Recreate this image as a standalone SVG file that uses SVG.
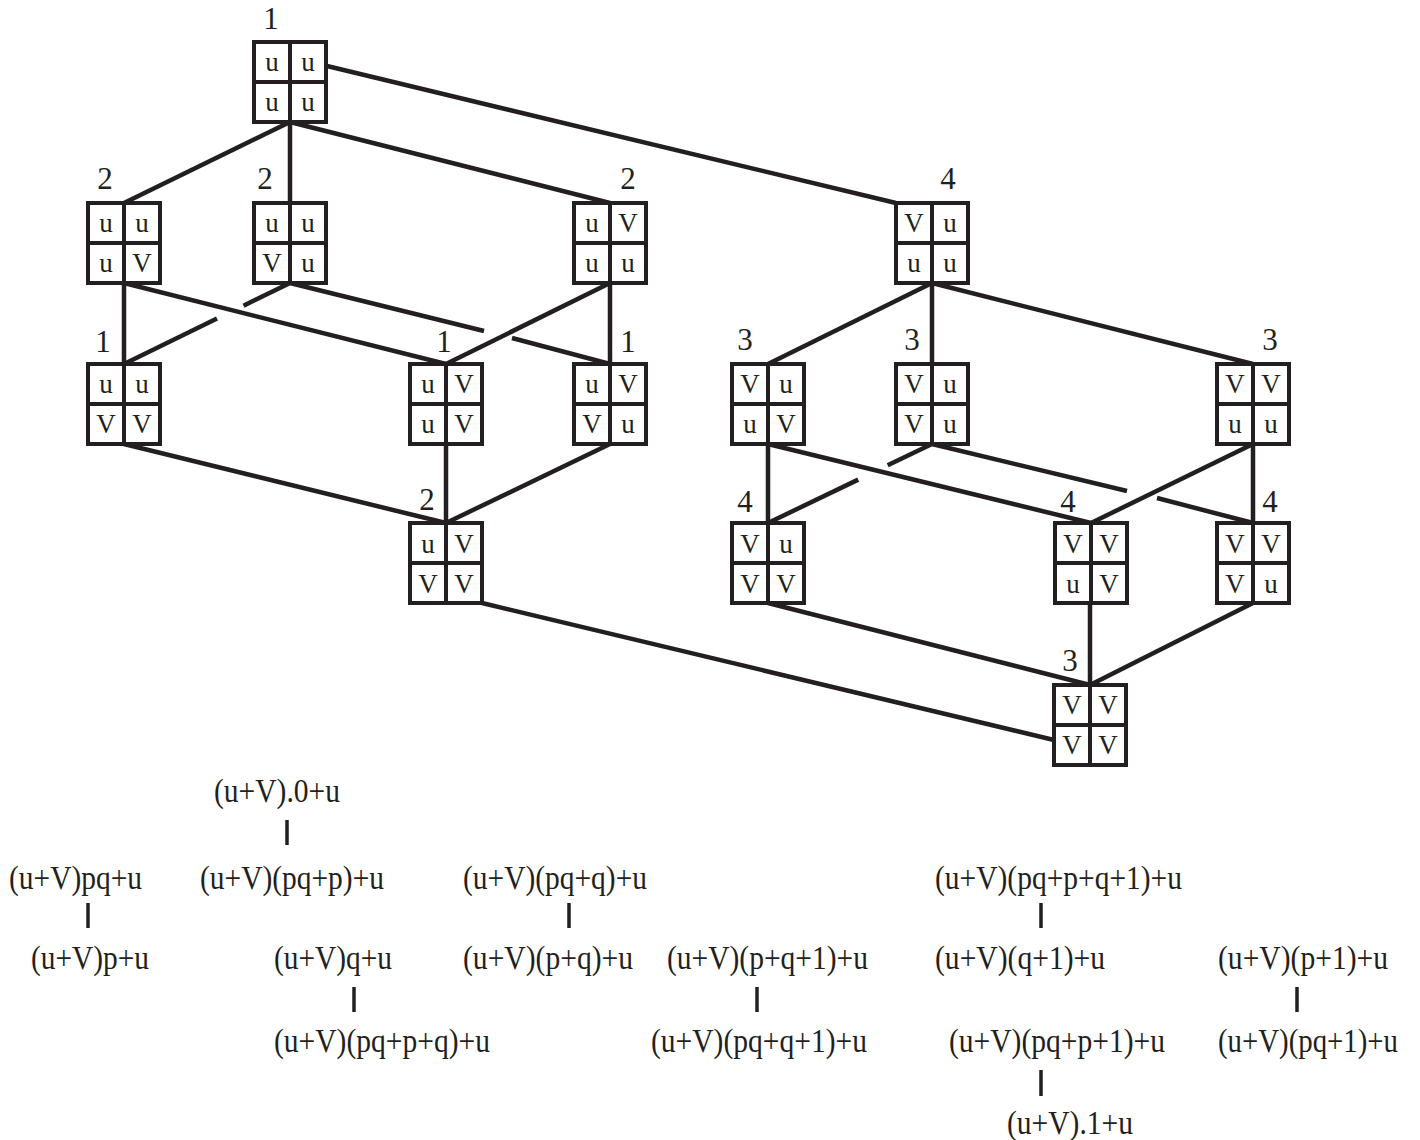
<svg xmlns="http://www.w3.org/2000/svg" width="1420" height="1140" viewBox="0 0 1420 1140">
  <style>
    .box { fill: #ffffff; stroke: #231f20; stroke-width: 4; }
    .div { stroke: #231f20; stroke-width: 4; fill: none; }
    .cell { font-family: "Liberation Serif", "Times New Roman", serif; font-size: 27px; fill: #231f20; text-anchor: middle; }
    .lbl { font-family: "Liberation Serif", "Times New Roman", serif; font-size: 31px; fill: #231f20; text-anchor: middle; }
    .expr { font-family: "Liberation Serif", "Times New Roman", serif; font-size: 33px; fill: #231f20; }
    .edge { stroke: #231f20; stroke-width: 4.5; fill: none; stroke-linecap: butt; }
    .bar { stroke: #231f20; stroke-width: 3.5; fill: none; }
  </style>
  <rect width="1420" height="1140" fill="#ffffff"/>

  <!-- connectors -->
  <g id="connectors">
    <line class="edge" x1="290" y1="122" x2="124" y2="203"/>
    <line class="edge" x1="290" y1="122" x2="290" y2="203"/>
    <line class="edge" x1="290" y1="122" x2="610" y2="203"/>
    <line class="edge" x1="327" y1="66" x2="896" y2="203"/>
    <line class="edge" x1="124" y1="283" x2="124" y2="364"/>
    <line class="edge" x1="124" y1="283" x2="446" y2="364"/>
    <line class="edge" x1="290" y1="283" x2="243.5" y2="305.7"/>
    <line class="edge" x1="217" y1="318.6" x2="124" y2="364"/>
    <line class="edge" x1="290" y1="283" x2="484" y2="331"/>
    <line class="edge" x1="512" y1="338" x2="610" y2="364"/>
    <line class="edge" x1="610" y1="283" x2="446" y2="364"/>
    <line class="edge" x1="610" y1="283" x2="610" y2="364"/>
    <line class="edge" x1="124" y1="444" x2="446" y2="523"/>
    <line class="edge" x1="446" y1="444" x2="446" y2="523"/>
    <line class="edge" x1="610" y1="444" x2="446" y2="523"/>
    <line class="edge" x1="482" y1="603" x2="1054" y2="740"/>
    <line class="edge" x1="932" y1="283" x2="768" y2="364"/>
    <line class="edge" x1="932" y1="283" x2="932" y2="364"/>
    <line class="edge" x1="932" y1="283" x2="1253" y2="364"/>
    <line class="edge" x1="768" y1="444" x2="768" y2="523"/>
    <line class="edge" x1="768" y1="444" x2="1091" y2="523"/>
    <line class="edge" x1="932" y1="444" x2="887.7" y2="465.3"/>
    <line class="edge" x1="858.2" y1="479.6" x2="768" y2="523"/>
    <line class="edge" x1="932" y1="444" x2="1127" y2="491"/>
    <line class="edge" x1="1157" y1="498" x2="1253" y2="523"/>
    <line class="edge" x1="1253" y1="444" x2="1091" y2="523"/>
    <line class="edge" x1="1253" y1="444" x2="1253" y2="523"/>
    <line class="edge" x1="768" y1="603" x2="1090" y2="685"/>
    <line class="edge" x1="1090" y1="603" x2="1090" y2="685"/>
    <line class="edge" x1="1253" y1="603" x2="1090" y2="685"/>
  </g>

  <!-- 2x2 grid nodes: rect centred on the divider, letters in reading order -->
  <g id="n-uuuu">
    <text class="lbl" x="271" y="29">1</text>
    <rect class="box" x="254" y="42" width="72" height="80"/>
    <path class="div" d="M290 42V122M254 82H326"/>
    <text class="cell" x="272" y="71">u</text><text class="cell" x="308" y="71">u</text>
    <text class="cell" x="272" y="111">u</text><text class="cell" x="308" y="111">u</text>
  </g>

  <g id="n-uuuV">
    <text class="lbl" x="105" y="189">2</text>
    <rect class="box" x="88" y="203" width="72" height="80"/>
    <path class="div" d="M124 203V283M88 243H160"/>
    <text class="cell" x="106" y="232">u</text><text class="cell" x="142" y="232">u</text>
    <text class="cell" x="106" y="272">u</text><text class="cell" x="142" y="272">V</text>
  </g>

  <g id="n-uuVu">
    <text class="lbl" x="265" y="189">2</text>
    <rect class="box" x="254" y="203" width="72" height="80"/>
    <path class="div" d="M290 203V283M254 243H326"/>
    <text class="cell" x="272" y="232">u</text><text class="cell" x="308" y="232">u</text>
    <text class="cell" x="272" y="272">V</text><text class="cell" x="308" y="272">u</text>
  </g>

  <g id="n-uVuu">
    <text class="lbl" x="628" y="189">2</text>
    <rect class="box" x="574" y="203" width="72" height="80"/>
    <path class="div" d="M610 203V283M574 243H646"/>
    <text class="cell" x="592" y="232">u</text><text class="cell" x="628" y="232">V</text>
    <text class="cell" x="592" y="272">u</text><text class="cell" x="628" y="272">u</text>
  </g>

  <g id="n-Vuuu">
    <text class="lbl" x="948" y="189">4</text>
    <rect class="box" x="896" y="203" width="72" height="80"/>
    <path class="div" d="M932 203V283M896 243H968"/>
    <text class="cell" x="914" y="232">V</text><text class="cell" x="950" y="232">u</text>
    <text class="cell" x="914" y="272">u</text><text class="cell" x="950" y="272">u</text>
  </g>

  <g id="n-uuVV">
    <text class="lbl" x="103" y="352">1</text>
    <rect class="box" x="88" y="364" width="72" height="80"/>
    <path class="div" d="M124 364V444M88 404H160"/>
    <text class="cell" x="106" y="393">u</text><text class="cell" x="142" y="393">u</text>
    <text class="cell" x="106" y="433">V</text><text class="cell" x="142" y="433">V</text>
  </g>

  <g id="n-uVuV">
    <text class="lbl" x="444" y="352">1</text>
    <rect class="box" x="410" y="364" width="72" height="80"/>
    <path class="div" d="M446 364V444M410 404H482"/>
    <text class="cell" x="428" y="393">u</text><text class="cell" x="464" y="393">V</text>
    <text class="cell" x="428" y="433">u</text><text class="cell" x="464" y="433">V</text>
  </g>

  <g id="n-uVVu">
    <text class="lbl" x="628" y="352">1</text>
    <rect class="box" x="574" y="364" width="72" height="80"/>
    <path class="div" d="M610 364V444M574 404H646"/>
    <text class="cell" x="592" y="393">u</text><text class="cell" x="628" y="393">V</text>
    <text class="cell" x="592" y="433">V</text><text class="cell" x="628" y="433">u</text>
  </g>

  <g id="n-VuuV">
    <text class="lbl" x="745" y="350">3</text>
    <rect class="box" x="732" y="364" width="72" height="80"/>
    <path class="div" d="M768 364V444M732 404H804"/>
    <text class="cell" x="750" y="393">V</text><text class="cell" x="786" y="393">u</text>
    <text class="cell" x="750" y="433">u</text><text class="cell" x="786" y="433">V</text>
  </g>

  <g id="n-VuVu">
    <text class="lbl" x="912" y="350">3</text>
    <rect class="box" x="896" y="364" width="72" height="80"/>
    <path class="div" d="M932 364V444M896 404H968"/>
    <text class="cell" x="914" y="393">V</text><text class="cell" x="950" y="393">u</text>
    <text class="cell" x="914" y="433">V</text><text class="cell" x="950" y="433">u</text>
  </g>

  <g id="n-VVuu">
    <text class="lbl" x="1270" y="350">3</text>
    <rect class="box" x="1217" y="364" width="72" height="80"/>
    <path class="div" d="M1253 364V444M1217 404H1289"/>
    <text class="cell" x="1235" y="393">V</text><text class="cell" x="1271" y="393">V</text>
    <text class="cell" x="1235" y="433">u</text><text class="cell" x="1271" y="433">u</text>
  </g>

  <g id="n-uVVV">
    <text class="lbl" x="427" y="510">2</text>
    <rect class="box" x="410" y="523" width="72" height="80"/>
    <path class="div" d="M446 523V603M410 563H482"/>
    <text class="cell" x="428" y="553">u</text><text class="cell" x="464" y="553">V</text>
    <text class="cell" x="428" y="593">V</text><text class="cell" x="464" y="593">V</text>
  </g>

  <g id="n-VuVV">
    <text class="lbl" x="745" y="512">4</text>
    <rect class="box" x="732" y="523" width="72" height="80"/>
    <path class="div" d="M768 523V603M732 563H804"/>
    <text class="cell" x="750" y="553">V</text><text class="cell" x="786" y="553">u</text>
    <text class="cell" x="750" y="593">V</text><text class="cell" x="786" y="593">V</text>
  </g>

  <g id="n-VVuV">
    <text class="lbl" x="1068" y="512">4</text>
    <rect class="box" x="1055" y="523" width="72" height="80"/>
    <path class="div" d="M1091 523V603M1055 563H1127"/>
    <text class="cell" x="1073" y="553">V</text><text class="cell" x="1109" y="553">V</text>
    <text class="cell" x="1073" y="593">u</text><text class="cell" x="1109" y="593">V</text>
  </g>

  <g id="n-VVVu">
    <text class="lbl" x="1270" y="512">4</text>
    <rect class="box" x="1217" y="523" width="72" height="80"/>
    <path class="div" d="M1253 523V603M1217 563H1289"/>
    <text class="cell" x="1235" y="553">V</text><text class="cell" x="1271" y="553">V</text>
    <text class="cell" x="1235" y="593">V</text><text class="cell" x="1271" y="593">u</text>
  </g>

  <g id="n-VVVV">
    <text class="lbl" x="1070" y="671">3</text>
    <rect class="box" x="1054" y="685" width="72" height="80"/>
    <path class="div" d="M1090 685V765M1054 725H1126"/>
    <text class="cell" x="1072" y="714">V</text><text class="cell" x="1108" y="714">V</text>
    <text class="cell" x="1072" y="754">V</text><text class="cell" x="1108" y="754">V</text>
  </g>

  <!-- expression chains -->
  <g id="expressions">
    <text class="expr" x="214" y="802" textLength="126" lengthAdjust="spacingAndGlyphs">(u+V).0+u</text>
    <line class="bar" x1="287" y1="820" x2="287" y2="845"/>
    <text class="expr" x="9" y="889" textLength="133" lengthAdjust="spacingAndGlyphs">(u+V)pq+u</text>
    <text class="expr" x="200" y="889" textLength="184" lengthAdjust="spacingAndGlyphs">(u+V)(pq+p)+u</text>
    <text class="expr" x="463" y="889" textLength="184" lengthAdjust="spacingAndGlyphs">(u+V)(pq+q)+u</text>
    <text class="expr" x="935" y="889" textLength="247" lengthAdjust="spacingAndGlyphs">(u+V)(pq+p+q+1)+u</text>
    <line class="bar" x1="88" y1="903" x2="88" y2="928"/>
    <line class="bar" x1="569" y1="903" x2="569" y2="928"/>
    <line class="bar" x1="1041" y1="903" x2="1041" y2="928"/>
    <text class="expr" x="31" y="969" textLength="118" lengthAdjust="spacingAndGlyphs">(u+V)p+u</text>
    <text class="expr" x="274" y="969" textLength="118" lengthAdjust="spacingAndGlyphs">(u+V)q+u</text>
    <text class="expr" x="463" y="969" textLength="170" lengthAdjust="spacingAndGlyphs">(u+V)(p+q)+u</text>
    <text class="expr" x="667" y="969" textLength="201" lengthAdjust="spacingAndGlyphs">(u+V)(p+q+1)+u</text>
    <text class="expr" x="935" y="969" textLength="170" lengthAdjust="spacingAndGlyphs">(u+V)(q+1)+u</text>
    <text class="expr" x="1218" y="969" textLength="170" lengthAdjust="spacingAndGlyphs">(u+V)(p+1)+u</text>
    <line class="bar" x1="354" y1="987" x2="354" y2="1012"/>
    <line class="bar" x1="757" y1="987" x2="757" y2="1012"/>
    <line class="bar" x1="1297" y1="987" x2="1297" y2="1012"/>
    <text class="expr" x="274" y="1052" textLength="216" lengthAdjust="spacingAndGlyphs">(u+V)(pq+p+q)+u</text>
    <text class="expr" x="651" y="1052" textLength="216" lengthAdjust="spacingAndGlyphs">(u+V)(pq+q+1)+u</text>
    <text class="expr" x="949" y="1052" textLength="216" lengthAdjust="spacingAndGlyphs">(u+V)(pq+p+1)+u</text>
    <text class="expr" x="1218" y="1052" font-size="31" textLength="180" lengthAdjust="spacingAndGlyphs">(u+V)(pq+1)+u</text>
    <line class="bar" x1="1041" y1="1070" x2="1041" y2="1096"/>
    <text class="expr" x="1007" y="1134" textLength="126" lengthAdjust="spacingAndGlyphs">(u+V).1+u</text>
  </g>
</svg>
